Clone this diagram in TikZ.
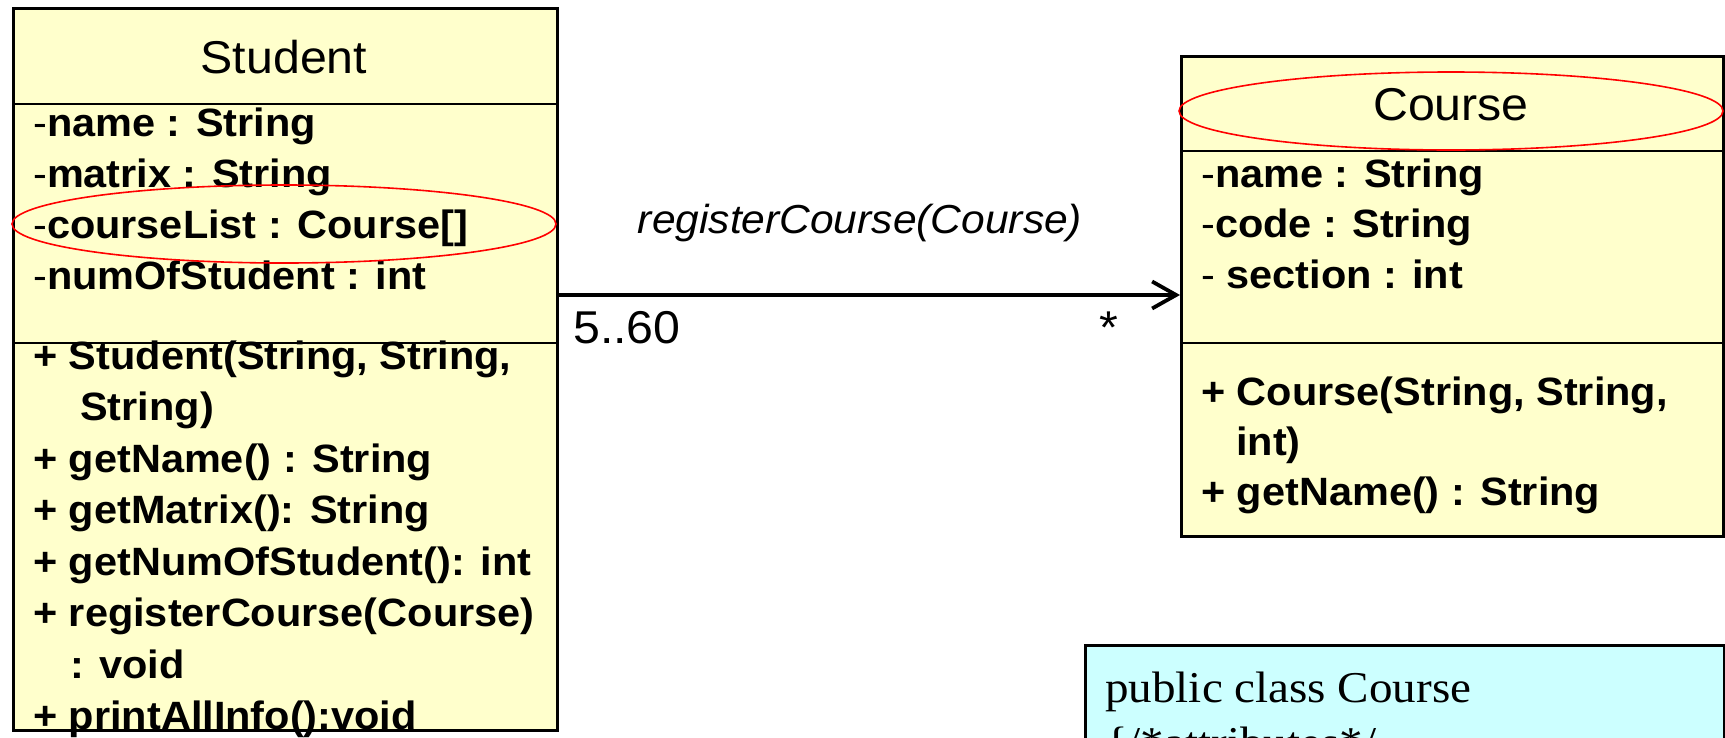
\documentclass[tikz,border=0pt]{standalone}
\usepackage{fontspec}
\usetikzlibrary{arrows.meta,shapes.geometric}
\newfontfamily\umlsans{Liberation Sans}[FakeStretch=1.05]
\newfontfamily\codeserif{Liberation Serif}[FakeStretch=1.07]
\definecolor{classfill}{HTML}{FFFFCC}
\definecolor{codefill}{HTML}{CCFFFF}

\begin{document}
\begin{tikzpicture}[x=1pt,y=-1pt,
  classbox/.style={draw=black, line width=2.5pt, fill=classfill, anchor=north west, inner sep=0pt},
  codebox/.style={draw=black, line width=2.5pt, fill=codefill, anchor=north west, inner sep=0pt},
  sep/.style={line width=2.5pt},
  classname/.style={font=\umlsans\fontsize{46}{50}\selectfont, inner sep=0pt, anchor=base},
  member/.style={font=\umlsans\fontsize{39.5}{45}\selectfont, inner sep=0pt, anchor=base west},
  operation/.style={font=\umlsans\bfseries\fontsize{39.5}{45}\selectfont, inner sep=0pt, anchor=base west},
  highlight/.style={ellipse, draw=red, line width=1.6pt, inner sep=0pt, minimum width=544pt, minimum height=78pt},
  assoc/.style={line width=3.8pt, -{Straight Barb[length=24pt,width=27pt]}},
  msglabel/.style={font=\umlsans\itshape\fontsize{40.5}{45}\selectfont, inner sep=0pt, anchor=base},
  multlabel/.style={font=\umlsans\fontsize{46}{50}\selectfont, inner sep=0pt},
  codetext/.style={font=\codeserif\fontsize{44}{50}\selectfont, inner sep=0pt, anchor=base west}
]
\useasboundingbox (0,0) rectangle (1725,737);
\fill[white] (0,0) rectangle (1725,737);

% ---------- class Student ----------
\node[classbox, minimum width=544pt, minimum height=722pt] (student) at (12,7) {};
\draw[sep] ([yshift=-97pt]student.north west) -- ([yshift=-97pt]student.north east);
\draw[sep] ([yshift=-336pt]student.north west) -- ([yshift=-336pt]student.north east);

\node[classname] (sName) at (284,73) {Student};

\node[member] (sA1) at (33,136) {-\textbf{name : String}};
\node[member] (sA2) at (33,187) {-\textbf{matrix : String}};
\node[member] (sA3) at (33,238) {-\textbf{courseList : Course[]}};
\node[member] (sA4) at (33,289) {-\textbf{numOfStudent : int}};

\node[operation] (sM1) at (33,369)  {+ Student(String, String,};
\node[operation] (sM1b) at (80,420) {String)};
\node[operation] (sM2) at (33,472)  {+ getName() : String};
\node[operation] (sM3) at (33,523)  {+ getMatrix(): String};
\node[operation] (sM4) at (33,575)  {+ getNumOfStudent(): int};
\node[operation] (sM5) at (33,626)  {+ registerCourse(Course)};
\node[operation] (sM5b) at (70,678) {: void};
\node[operation] (sM6) at (33,729)  {+ printAllInfo():void};

% ---------- class Course ----------
\node[classbox, minimum width=542pt, minimum height=480pt] (course) at (1180,55) {};
\draw[sep] ([yshift=-96pt]course.north west) -- ([yshift=-96pt]course.north east);
\draw[sep] ([yshift=-288pt]course.north west) -- ([yshift=-288pt]course.north east);

\node[classname] (cName) at (1451,120) {Course};

\node[member] (cA1) at (1201,187) {-\textbf{name : String}};
\node[member] (cA2) at (1201,237) {-\textbf{code : String}};
\node[member] (cA3) at (1201,288) {- \textbf{section : int}};

\node[operation] (cM1) at (1201,405)  {+ Course(String, String,};
\node[operation] (cM1b) at (1236,455) {int)};
\node[operation] (cM2) at (1201,505)  {+ getName() : String};

% ---------- highlighted entries ----------
\node[highlight] (hlList) at (284,224) {};
\node[highlight] (hlCourse) at (1451,111) {};

% ---------- association ----------
\coordinate (lane) at (0,295);
\draw[assoc] (student.east |- lane) -- (course.west |- lane);
\node[msglabel] (msg) at (860,233) {registerCourse(Course)};
\node[multlabel, anchor=base west] (multS) at (573,343) {5..60};
\node[multlabel, anchor=base] (multC) at (1109,343) {*};

% ---------- source code box ----------
\node[codebox, minimum width=639pt, minimum height=200pt] (code) at (1084,644) {};
\node[codetext] (code1) at (1105,702) {public class Course};
\node[codetext] (code2) at (1105,757) {\{/*attributes*/};
\end{tikzpicture}
\end{document}
